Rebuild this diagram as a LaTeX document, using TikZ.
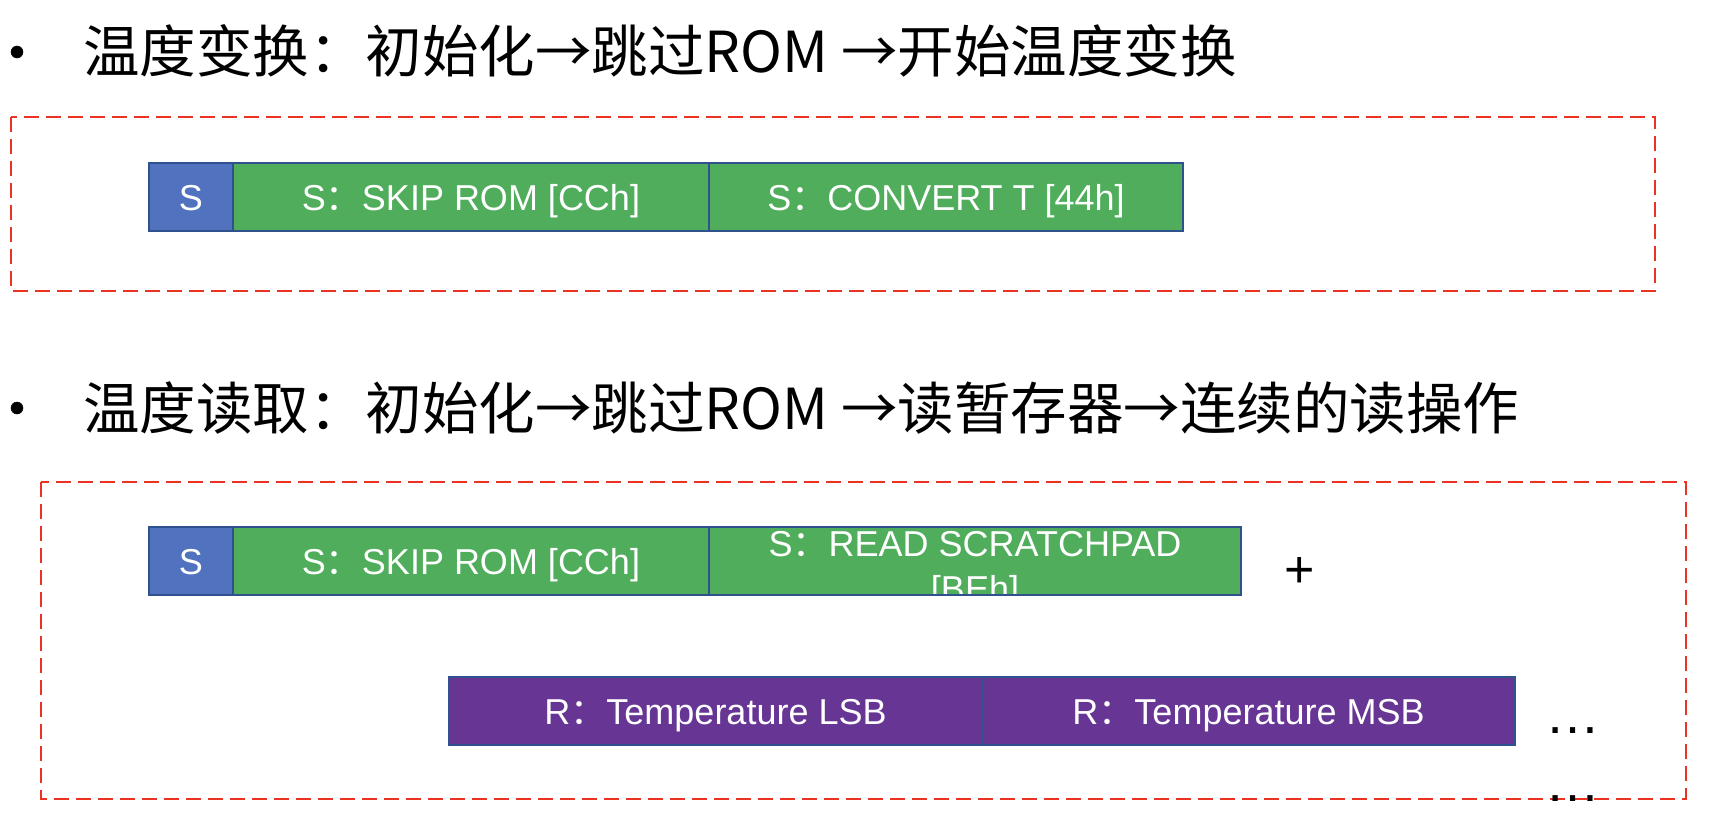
\documentclass[tikz,border=0pt]{standalone}
\usepackage{fontspec}
\setmainfont{Liberation Sans}
\newfontfamily\cjk{Noto Sans CJK SC}
\definecolor{sblue}{RGB}{80,114,191}
\definecolor{sgreen}{RGB}{79,173,91}
\definecolor{spurple}{RGB}{103,54,148}
\definecolor{sborder}{RGB}{47,82,143}
\definecolor{sred}{RGB}{234,51,35}
\begin{document}
\begin{tikzpicture}[x=1pt,y=-1pt,
  blk/.style={draw=sborder, line width=1.8pt, minimum height=68pt, inner sep=0pt, outer sep=0pt,
    anchor=north west, text=white, text height=26pt, text depth=0pt,
    font=\fontsize{36}{43}\selectfont},
  sblk/.style={blk, fill=sblue},
  gblk/.style={blk, fill=sgreen},
  pblk/.style={blk, fill=spurple},
  redbox/.style={draw=sred, line width=2pt, dash pattern=on 15pt off 7pt},
  title/.style={anchor=west, inner sep=0pt, font=\cjk\fontsize{56.5}{66}\selectfont},
  bullet/.style={circle, fill=black, draw=black, line width=0.5pt, minimum size=12pt, inner sep=0pt},
  sym/.style={anchor=base, inner sep=0pt, font=\fontsize{55}{66}\selectfont}
]
\useasboundingbox (0,0) rectangle (1728,822);

% titles
\node[bullet] (b1) at (17,52) {};
\node[title] (t1) at (83,51) {温度变换：初始化→跳过ROM →开始温度变换};
\node[bullet] (b2) at (17,408) {};
\node[title] (t2) at (83,408) {温度读取：初始化→跳过ROM →读暂存器→连续的读操作};

% dashed frames
\draw[redbox] (11,117) rectangle (1655,291);
\draw[redbox] (41,482) rectangle (1686,799);

% row 1
\node[sblk, minimum width=84pt] (s1) at (149,163) {S};
\node[gblk, minimum width=476pt] (g1) at (233,163) {S{\cjk ：}SKIP ROM [CCh]};
\node[gblk, minimum width=474pt] (g2) at (709,163) {S{\cjk ：}CONVERT T [44h]};

% row 2
\node[sblk, minimum width=84pt] (s2) at (149,527) {S};
\node[gblk, minimum width=476pt] (g3) at (233,527) {S{\cjk ：}SKIP ROM [CCh]};
\node[gblk, minimum width=532pt] (g4) at (709,527) {};
\begin{scope}
  \clip (g4.north west) rectangle (g4.south east);
  \node[anchor=base, inner sep=0pt, text=white, font=\fontsize{36}{43}\selectfont] (g4a) at (975,556) {S{\cjk ：}READ SCRATCHPAD};
  \node[anchor=base, inner sep=0pt, text=white, font=\fontsize{36}{43}\selectfont] (g4b) at (975,601) {[BEh]};
\end{scope}
\draw[draw=sborder, line width=1.8pt] (g4.north west) rectangle (g4.south east);

\node[sym, font=\fontsize{52}{60}\selectfont] (plus) at (1300,587) {+};

% row 3
\node[pblk, minimum width=533pt] (p1) at (449,677) {R{\cjk ：}Temperature LSB};
\node[pblk, minimum width=533pt] (p2) at (982,677) {R{\cjk ：}Temperature MSB};

\node[sym] (d1) at (1573,733) {…};
\begin{scope}
  \clip (1500,700) rectangle (1728,800);
  \node[sym] (d2) at (1573,801) {…};
\end{scope}
\end{tikzpicture}
\end{document}
